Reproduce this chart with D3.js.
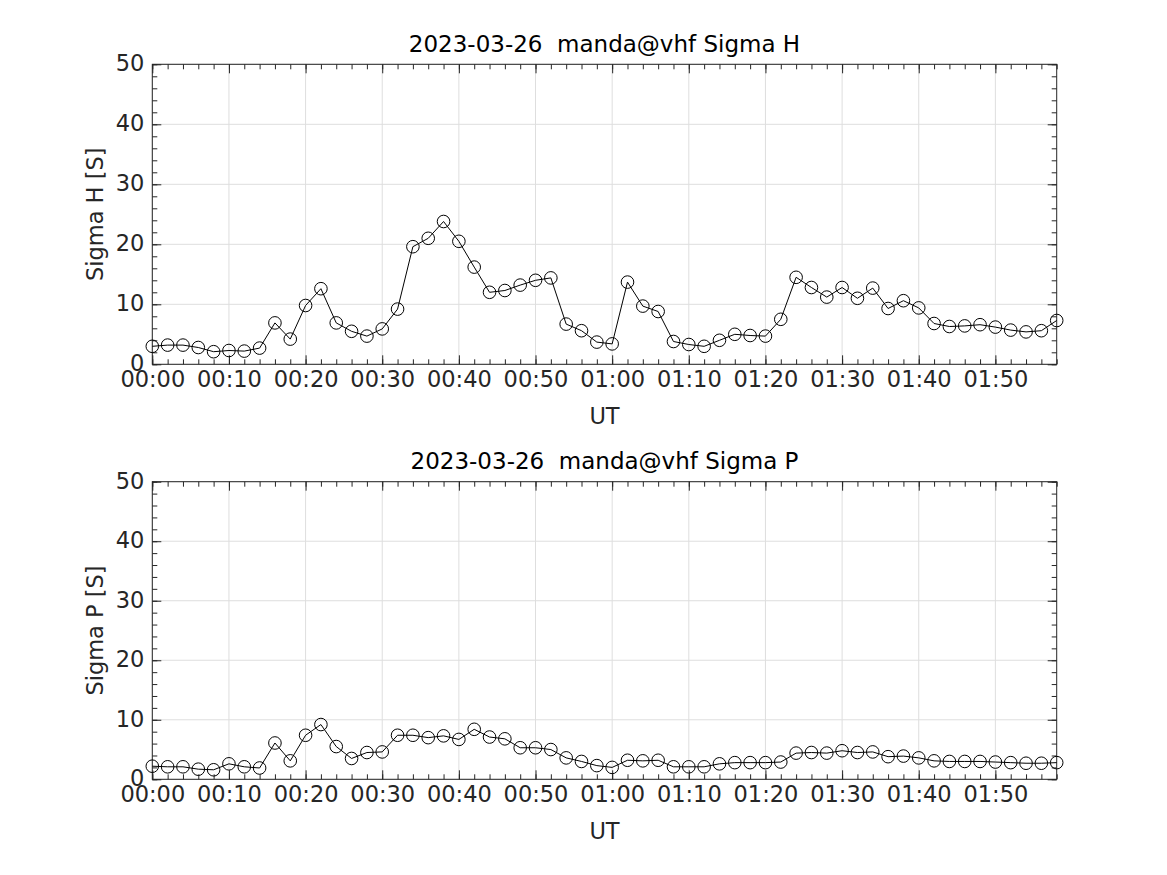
<!DOCTYPE html>
<html>
<head>
<meta charset="utf-8">
<script src="https://cdn.jsdelivr.net/npm/d3@7"></script>
<style>
  html, body { margin: 0; padding: 0; background: #fff; }
  svg { display: block; font-family: "DejaVu Sans", sans-serif; }
</style>
</head>
<body>
<svg id="chart" width="1167" height="875"></svg>
<script>
// ---- Data ----
const dateLabel = "2023-03-26";
const station = "manda@vhf";
const timeMinutes = [0,2,4,6,8,10,12,14,16,18,20,22,24,26,28,30,32,34,36,38,40,42,44,46,48,50,52,54,56,58,
  60,62,64,66,68,70,72,74,76,78,80,82,84,86,88,90,92,94,96,98,100,102,104,106,108,110,112,114,116,118];
const sigmaH = [3.0,3.2,3.2,2.8,2.1,2.3,2.2,2.7,6.9,4.2,9.8,12.6,6.9,5.5,4.7,5.9,9.2,19.6,21.0,23.8,
  20.5,16.2,12.0,12.3,13.2,14.0,14.4,6.7,5.6,3.7,3.4,13.7,9.7,8.8,3.8,3.3,3.0,4.0,5.0,4.8,
  4.7,7.5,14.5,12.8,11.2,12.8,11.0,12.7,9.3,10.6,9.4,6.8,6.3,6.4,6.6,6.2,5.7,5.4,5.6,7.3];
const sigmaP = [2.2,2.1,2.1,1.7,1.6,2.6,2.1,1.9,6.1,3.1,7.4,9.2,5.5,3.5,4.5,4.6,7.4,7.4,7.0,7.3,
  6.7,8.4,7.1,6.8,5.3,5.3,5.0,3.6,3.0,2.3,2.0,3.2,3.1,3.2,2.1,2.1,2.1,2.6,2.8,2.8,
  2.8,2.9,4.4,4.5,4.4,4.8,4.5,4.6,3.8,3.9,3.6,3.1,3.0,3.0,3.0,2.9,2.8,2.7,2.7,2.8];
const xTickValues = [0,10,20,30,40,50,60,70,80,90,100,110];
const xTickLabels = ["00:00","00:10","00:20","00:30","00:40","00:50","01:00","01:10","01:20","01:30","01:40","01:50"];
const yTickValues = [0,10,20,30,40,50];
const panels = [
  { title: "Sigma H", ylabel: "Sigma H [S]", values: sigmaH, top: 64.3, bottom: 364.3 },
  { title: "Sigma P", ylabel: "Sigma P [S]", values: sigmaP, top: 481.7, bottom: 779.3 }
];

// ---- Drawing ----
const svg = d3.select("#chart");
const left = 152.3, right = 1056.7;
const textColor = "#262626";
const fs = "22.5px";
const x = d3.scaleLinear().domain([0, 118]).range([left, right]);
const xMinor = d3.range(0, 119, 2);
const yMinor = d3.range(0, 51, 2);

panels.forEach(p => {
  const y = d3.scaleLinear().domain([0, 50]).range([p.bottom, p.top]);
  const g = svg.append("g");

  // grid
  g.append("g").selectAll("line").data(xTickValues).join("line")
    .attr("x1", d => x(d)).attr("x2", d => x(d))
    .attr("y1", p.top).attr("y2", p.bottom)
    .attr("stroke", "#dedede").attr("stroke-width", 1);
  g.append("g").selectAll("line").data(yTickValues).join("line")
    .attr("x1", left).attr("x2", right)
    .attr("y1", d => y(d)).attr("y2", d => y(d))
    .attr("stroke", "#dedede").attr("stroke-width", 1);

  // minor ticks (no labels)
  const minorStyle = sel => {
    sel.select(".domain").remove();
    sel.selectAll("text").remove();
    sel.selectAll("line").attr("stroke", textColor).attr("stroke-width", 1);
  };
  g.append("g").attr("transform", `translate(0,${p.bottom})`)
    .call(d3.axisBottom(x).tickValues(xMinor).tickSize(-5).tickFormat("")).call(minorStyle);
  g.append("g").attr("transform", `translate(0,${p.top})`)
    .call(d3.axisTop(x).tickValues(xMinor).tickSize(-5).tickFormat("")).call(minorStyle);
  g.append("g").attr("transform", `translate(${left},0)`)
    .call(d3.axisLeft(y).tickValues(yMinor).tickSize(-5).tickFormat("")).call(minorStyle);
  g.append("g").attr("transform", `translate(${right},0)`)
    .call(d3.axisRight(y).tickValues(yMinor).tickSize(-5).tickFormat("")).call(minorStyle);

  // major ticks
  const majorStyle = sel => {
    sel.select(".domain").remove();
    sel.selectAll("line").attr("stroke", textColor).attr("stroke-width", 1);
    sel.selectAll("text").attr("fill", textColor).style("font-size", fs)
      .style("font-family", "'DejaVu Sans', sans-serif");
  };
  const xb = g.append("g").attr("transform", `translate(0,${p.bottom})`)
    .call(d3.axisBottom(x).tickValues(xTickValues).tickSize(-9)
      .tickFormat((d, i) => xTickLabels[i])).call(majorStyle);
  xb.selectAll("text").attr("dy", null).attr("y", 16).attr("dominant-baseline", "middle");
  g.append("g").attr("transform", `translate(0,${p.top})`)
    .call(d3.axisTop(x).tickValues(xTickValues).tickSize(-9).tickFormat("")).call(majorStyle);
  const yl = g.append("g").attr("transform", `translate(${left},0)`)
    .call(d3.axisLeft(y).tickValues(yTickValues).tickSize(-9).tickFormat(d3.format("d"))).call(majorStyle);
  yl.selectAll("text").attr("x", -8).attr("dy", null).attr("dominant-baseline", "middle");
  g.append("g").attr("transform", `translate(${right},0)`)
    .call(d3.axisRight(y).tickValues(yTickValues).tickSize(-9).tickFormat("")).call(majorStyle);

  // box
  g.append("rect").attr("x", left).attr("y", p.top)
    .attr("width", right - left).attr("height", p.bottom - p.top)
    .attr("fill", "none").attr("stroke", textColor).attr("stroke-width", 1);

  // data line
  const pts = timeMinutes.map((t, i) => [t, p.values[i]]);
  g.append("path").datum(pts)
    .attr("d", d3.line().x(d => x(d[0])).y(d => y(d[1])))
    .attr("fill", "none").attr("stroke", "#000").attr("stroke-width", 1);
  g.append("g").selectAll("circle").data(pts).join("circle")
    .attr("cx", d => x(d[0])).attr("cy", d => y(d[1])).attr("r", 6.3)
    .attr("fill", "none").attr("stroke", "#000").attr("stroke-width", 1);

  // title
  g.append("text").attr("x", (left + right) / 2).attr("y", p.top - 19)
    .attr("text-anchor", "middle").attr("dominant-baseline", "middle")
    .attr("xml:space", "preserve").style("white-space", "pre")
    .attr("fill", "#000").style("font-size", "23px")
    .text(`${dateLabel}  ${station} ${p.title}`);

  // x label
  g.append("text").attr("x", (left + right) / 2).attr("y", p.bottom + 53)
    .attr("text-anchor", "middle").attr("dominant-baseline", "middle")
    .attr("fill", textColor).style("font-size", fs).text("UT");

  // y label
  g.append("text")
    .attr("transform", `translate(96,${(p.top + p.bottom) / 2}) rotate(-90)`)
    .attr("text-anchor", "middle").attr("dominant-baseline", "middle")
    .attr("fill", textColor).style("font-size", fs).text(p.ylabel);
});
</script>
</body>
</html>
